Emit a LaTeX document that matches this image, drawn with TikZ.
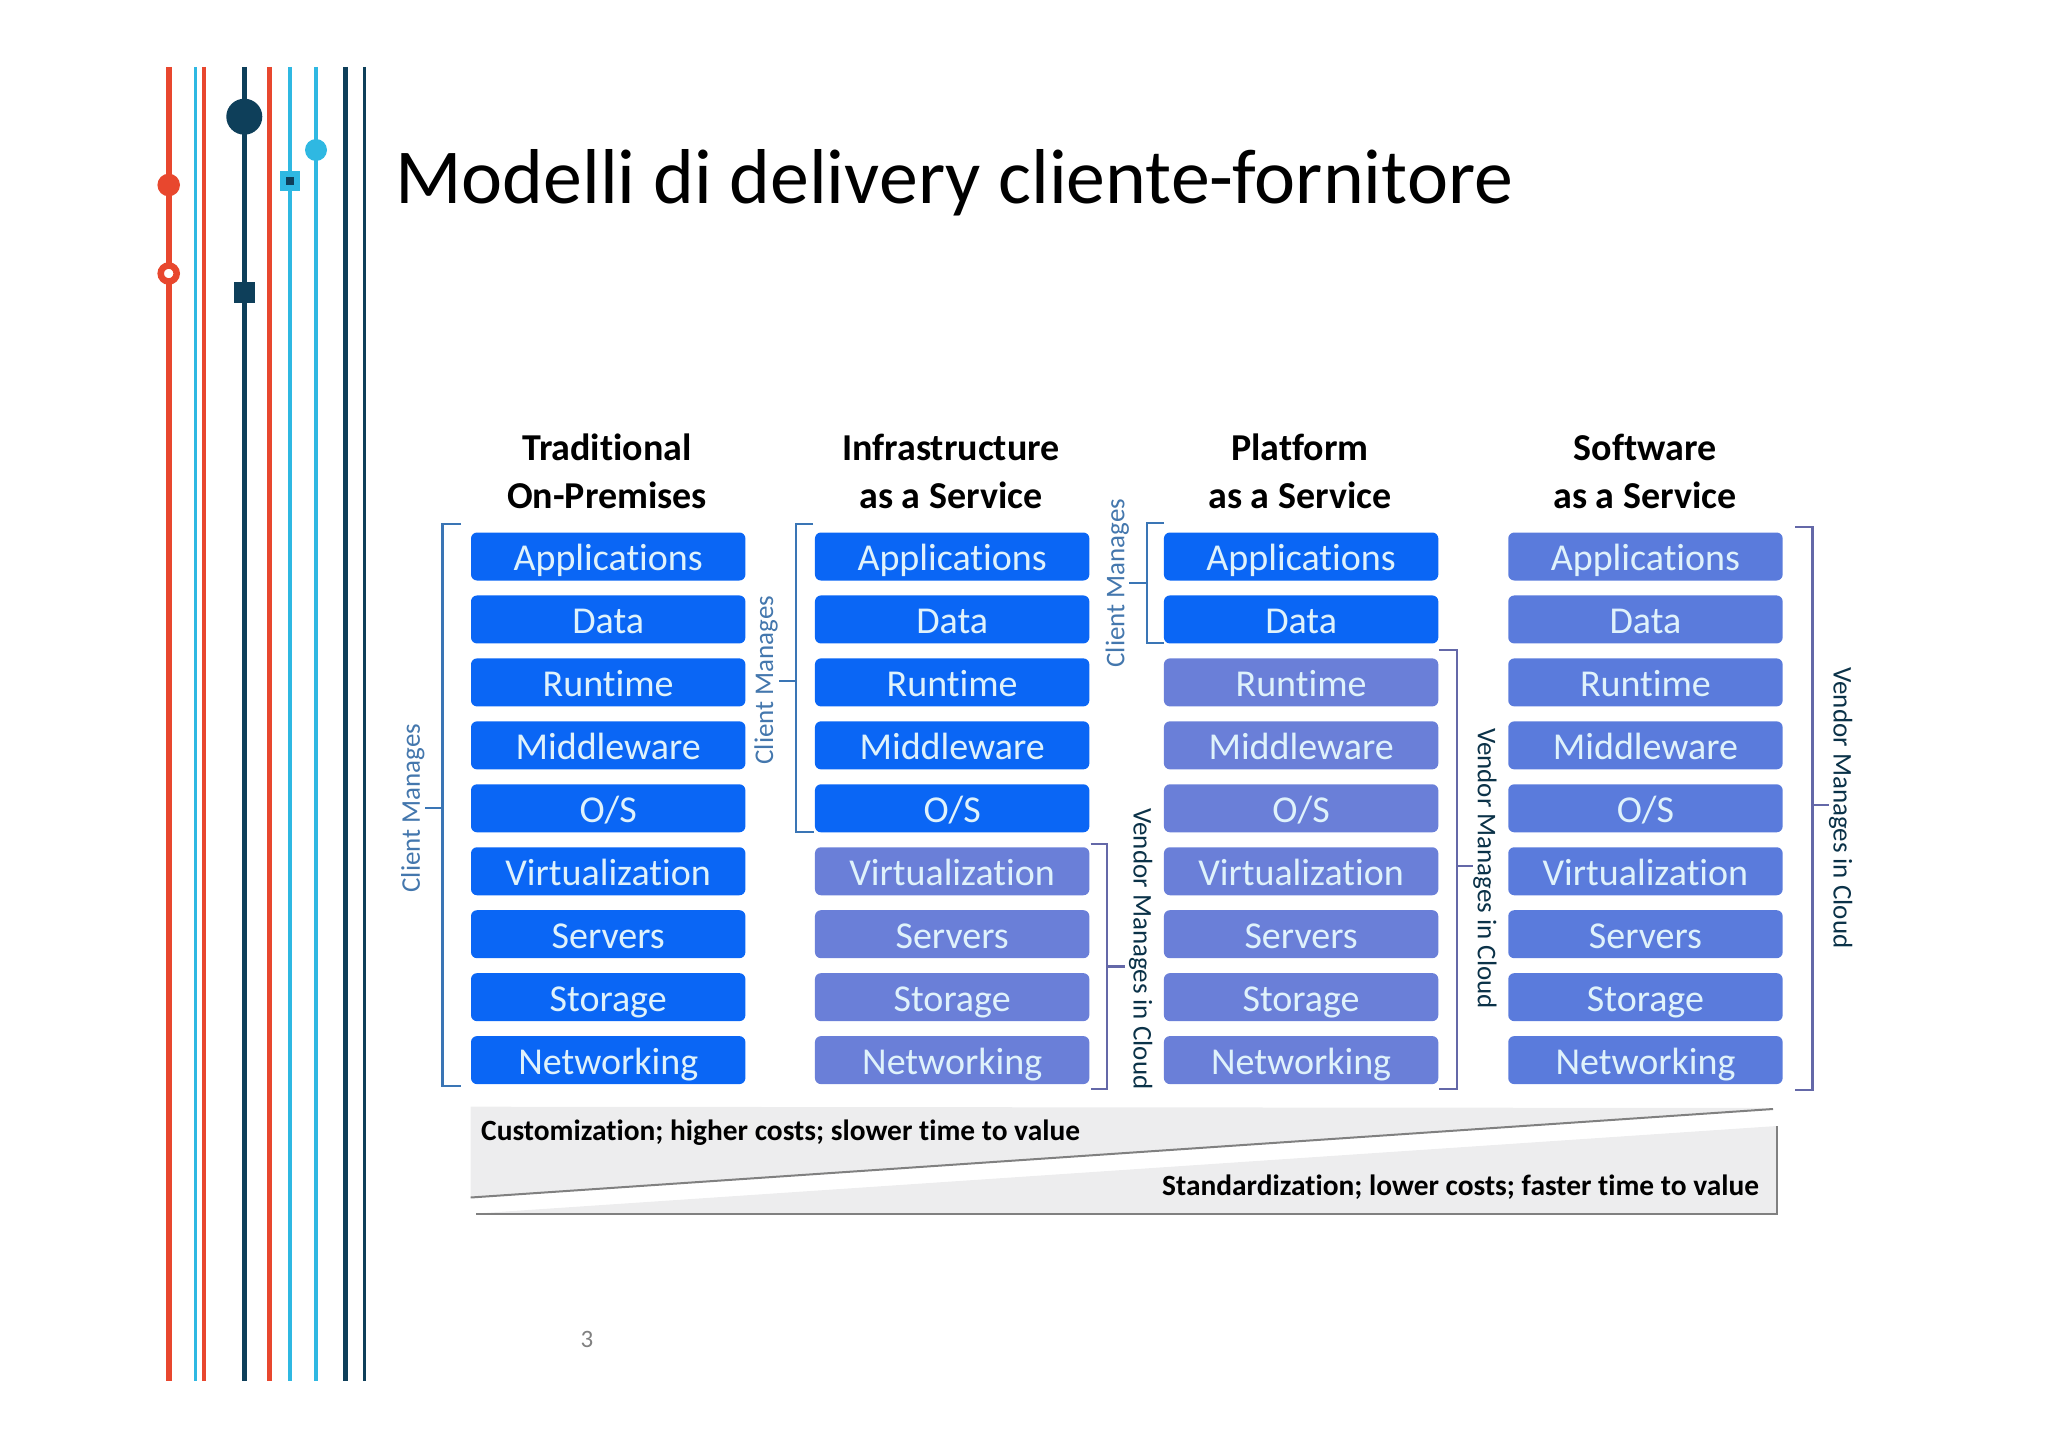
\documentclass[tikz,border=0pt]{standalone}
\usepackage{fontspec}
\setmainfont[RawFeature={-liga}]{Carlito}
\definecolor{barred}{HTML}{E8472E}
\definecolor{barcyan}{HTML}{2FB8E2}
\definecolor{bardark}{HTML}{0E3F5A}
\definecolor{clientblue}{HTML}{0A66F5}
\definecolor{vendorblue}{HTML}{6A7FD8}
\definecolor{saasblue}{HTML}{5A7BDC}
\definecolor{labelwhite}{HTML}{DFF2FB}
\definecolor{clientline}{HTML}{3A75B5}
\definecolor{vendorline}{HTML}{6468A8}
\definecolor{wedgegrey}{HTML}{EDEDEE}
\tikzstyle{layer} = [rounded corners=6pt, minimum width=274.4pt, minimum height=48pt, inner sep=0pt, text=labelwhite, text height=28.5pt, text depth=0.5pt, font=\fontsize{38}{42}\selectfont]
\tikzstyle{client} = [layer, fill=clientblue]
\tikzstyle{vendor} = [layer, fill=vendorblue]
\tikzstyle{saas} = [layer, fill=saasblue]
\tikzstyle{heading} = [align=center, inner sep=0pt, font=\fontsize{38}{48}\selectfont\bfseries]
\tikzstyle{clientbracket} = [line width=2.2pt, draw=clientline]
\tikzstyle{vendorbracket} = [line width=2.2pt, draw=vendorline]
\tikzstyle{clienttext} = [inner sep=0pt, text=clientline!85!gray, font=\fontsize{27}{30}\selectfont]
\tikzstyle{vendortext} = [inner sep=0pt, text=bardark!80!black, font=\fontsize{27}{30}\selectfont]
\tikzstyle{wedgetext} = [inner sep=0pt, anchor=base west, font=\fontsize{29.4}{34}\selectfont\bfseries]

\begin{document}
\begin{tikzpicture}[x=1pt, y=-1pt, node distance=62.95pt]
                \useasboundingbox (0,0) rectangle (2048,1447);

                % striped bars on the left
                \draw [barred, line width=6pt] (168.7,67) -- (168.7,1381);
                \draw [barcyan, line width=3.5pt] (195.7,67) -- (195.7,1381);
                \draw [barred, line width=3.5pt] (204,67) -- (204,1381);
                \draw [bardark, line width=5pt] (244.3,67) -- (244.3,1381);
                \draw [barred, line width=5pt] (269.3,67) -- (269.3,1381);
                \draw [barcyan, line width=4.5pt] (290,67) -- (290,1381);
                \draw [barcyan, line width=3.5pt] (316,67) -- (316,1381);
                \draw [bardark, line width=5pt] (345.7,67) -- (345.7,1381);
                \draw [bardark, line width=3.5pt] (364.3,67) -- (364.3,1381);
                \fill [bardark] (244.3,116.7) circle (18);
                \fill [barcyan] (316,150) circle (11);
                \fill [barred] (168.7,185) circle (11.3);
                \draw [barred, fill=white, line width=6.5pt] (168.7,273.5) circle (8);
                \fill [barcyan] (280,170.7) rectangle (300,190.7);
                \fill [bardark] (286,176.7) rectangle (294,184.7);
                \fill [bardark] (233.8,282.5) rectangle (254.8,303.5);

                \node (title) [anchor=base west, inner sep=0pt, font=\fontsize{77.8}{84}\selectfont] at (395,203.5) {Modelli di delivery cliente-fornitore};
                \node (page) [text=gray, inner sep=0pt, font=\fontsize{25}{28}\selectfont] at (587,1339) {3};

                \node (h1) [heading] at (607,471) {Traditional\\On-Premises};
                \node (h2) [heading] at (951,471) {Infrastructure\\as a Service};
                \node (h3) [heading] at (1300,471) {Platform\\as a Service};
                \node (h4) [heading] at (1645,471) {Software\\as a Service};

                % first column
                \node (a1) [client] at (608.2,556.5) {Applications};
                \node (a2) [client, below of=a1] {Data};
                \node (a3) [client, below of=a2] {Runtime};
                \node (a4) [client, below of=a3] {Middleware};
                \node (a5) [client, below of=a4] {O/S};
                \node (a6) [client, below of=a5] {Virtualization};
                \node (a7) [client, below of=a6] {Servers};
                \node (a8) [client, below of=a7] {Storage};
                \node (a9) [client, below of=a8] {Networking};

                % second column
                \node (b1) [client, right of=a1, xshift=281pt] {Applications};
                \node (b2) [client, below of=b1] {Data};
                \node (b3) [client, below of=b2] {Runtime};
                \node (b4) [client, below of=b3] {Middleware};
                \node (b5) [client, below of=b4] {O/S};
                \node (b6) [vendor, below of=b5] {Virtualization};
                \node (b7) [vendor, below of=b6] {Servers};
                \node (b8) [vendor, below of=b7] {Storage};
                \node (b9) [vendor, below of=b8] {Networking};

                % third column
                \node (c1) [client, right of=b1, xshift=286pt] {Applications};
                \node (c2) [client, below of=c1] {Data};
                \node (c3) [vendor, below of=c2] {Runtime};
                \node (c4) [vendor, below of=c3] {Middleware};
                \node (c5) [vendor, below of=c4] {O/S};
                \node (c6) [vendor, below of=c5] {Virtualization};
                \node (c7) [vendor, below of=c6] {Servers};
                \node (c8) [vendor, below of=c7] {Storage};
                \node (c9) [vendor, below of=c8] {Networking};

                % fourth column
                \node (d1) [saas, right of=c1, xshift=281.4pt] {Applications};
                \node (d2) [saas, below of=d1] {Data};
                \node (d3) [saas, below of=d2] {Runtime};
                \node (d4) [saas, below of=d3] {Middleware};
                \node (d5) [saas, below of=d4] {O/S};
                \node (d6) [saas, below of=d5] {Virtualization};
                \node (d7) [saas, below of=d6] {Servers};
                \node (d8) [saas, below of=d7] {Storage};
                \node (d9) [saas, below of=d8] {Networking};

                % brackets and their labels
                \node (m1) [clienttext, rotate=90] at (412.7,808) {Client Manages};
                \coordinate (m1a) at (461,524);
                \coordinate (m1b) at (442.5,524);
                \coordinate (m1c) at (442.5,1086);
                \coordinate (m1d) at (461,1086);
                \coordinate (m1e) at (442.5,807.7);
                \coordinate (m1f) at (425,807.7);
                \draw [clientbracket] (m1a) -- (m1b) -- (m1c) -- (m1d);
                \draw [clientbracket] (m1e) -- (m1f);

                \node (m2) [clienttext, rotate=90] at (766,680) {Client Manages};
                \coordinate (m2a) at (813,524);
                \coordinate (m2b) at (796,524);
                \coordinate (m2c) at (796,832.3);
                \coordinate (m2d) at (814,832.3);
                \coordinate (m2e) at (796,680.7);
                \coordinate (m2f) at (779,680.7);
                \draw [clientbracket] (m2a) -- (m2b) -- (m2c) -- (m2d);
                \draw [clientbracket] (m2e) -- (m2f);

                \node (m3) [clienttext, rotate=90] at (1117.3,583) {Client Manages};
                \coordinate (m3a) at (1164,523.3);
                \coordinate (m3b) at (1146.7,523.3);
                \coordinate (m3c) at (1146.7,643.3);
                \coordinate (m3d) at (1164,643.3);
                \coordinate (m3e) at (1146.7,583.3);
                \coordinate (m3f) at (1129,583.3);
                \draw [clientbracket] (m3a) -- (m3b) -- (m3c) -- (m3d);
                \draw [clientbracket] (m3e) -- (m3f);

                \node (v2) [vendortext, rotate=-90] at (1140.7,949) {Vendor Manages in Cloud};
                \coordinate (v2a) at (1090.7,844.3);
                \coordinate (v2b) at (1107.3,844.3);
                \coordinate (v2c) at (1107.3,1089.3);
                \coordinate (v2d) at (1090.7,1089.3);
                \coordinate (v2e) at (1107.3,966.5);
                \coordinate (v2f) at (1125,966.5);
                \draw [vendorbracket] (v2a) -- (v2b) -- (v2c) -- (v2d);
                \draw [vendorbracket] (v2e) -- (v2f);

                \node (v3) [vendortext, rotate=-90] at (1485,868.5) {Vendor Manages in Cloud};
                \coordinate (v3a) at (1439.3,650);
                \coordinate (v3b) at (1456.7,650);
                \coordinate (v3c) at (1456.7,1089.3);
                \coordinate (v3d) at (1439.3,1089.3);
                \coordinate (v3e) at (1456.7,866);
                \coordinate (v3f) at (1473,866);
                \draw [vendorbracket] (v3a) -- (v3b) -- (v3c) -- (v3d);
                \draw [vendorbracket] (v3e) -- (v3f);

                \node (v4) [vendortext, rotate=-90] at (1840.7,808) {Vendor Manages in Cloud};
                \coordinate (v4a) at (1795,526.8);
                \coordinate (v4b) at (1812.5,526.8);
                \coordinate (v4c) at (1812.5,1090);
                \coordinate (v4d) at (1795,1090);
                \coordinate (v4e) at (1812.5,805);
                \coordinate (v4f) at (1829,805);
                \draw [vendorbracket] (v4a) -- (v4b) -- (v4c) -- (v4d);
                \draw [vendorbracket] (v4e) -- (v4f);

                % the two wedges at the bottom
                \fill [wedgegrey] (470.7,1106.7) -- (1773,1108) -- (470.7,1197.5) -- cycle;
                \draw [gray, line width=2pt] (470.7,1197.5) -- (1773,1109);
                \fill [wedgegrey] (476,1213.5) -- (1776.7,1213.5) -- (1776.7,1126) -- cycle;
                \draw [gray, line width=2pt] (476,1213.5) -- (1776.7,1213.5) -- (1776.7,1126);

                \node (cost1) [wedgetext] at (481,1140.5) {Customization; higher costs; slower time to value};
                \node (cost2) [wedgetext] at (1162,1195.5) {Standardization; lower costs; faster time to value};
            \end{tikzpicture}
\end{document}
